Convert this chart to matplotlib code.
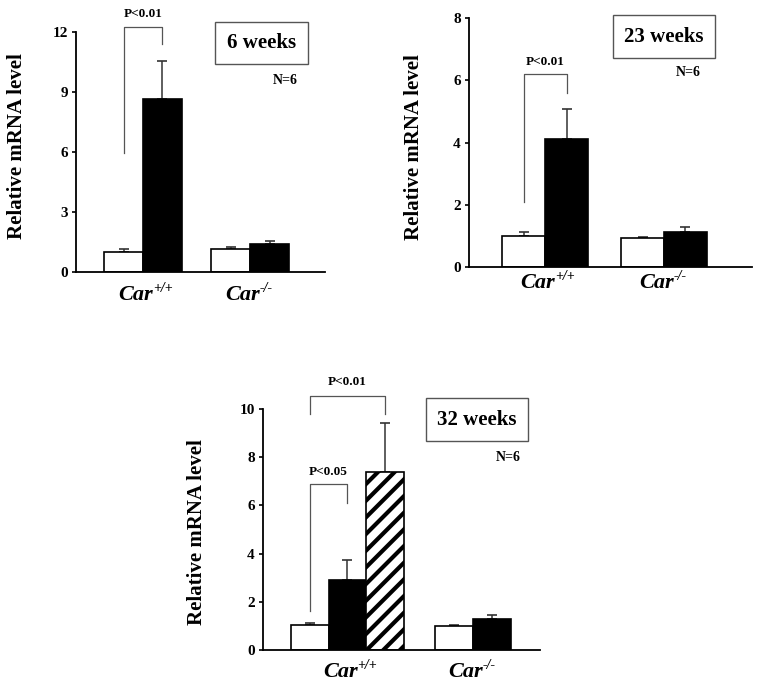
import numpy as np
import matplotlib
matplotlib.use("Agg")
import matplotlib.pyplot as plt
import matplotlib.transforms as mtransforms

plt.rcParams['font.family'] = ['Liberation Serif', 'DejaVu Serif']
plt.rcParams['font.weight'] = 'bold'
plt.rcParams['hatch.linewidth'] = 3.0

# ---------- data ----------
groups = ['Car', 'Car']
group_sup = ['+/+', '-/-']

# 6 weeks
w6_white = [1.0, 1.15]
w6_white_err = [0.15, 0.12]
w6_black = [8.65, 1.40]
w6_black_err = [1.90, 0.15]
w6_ticks = [0, 3, 6, 9, 12]

# 23 weeks
w23_white = [1.0, 0.93]
w23_white_err = [0.13, 0.04]
w23_black = [4.12, 1.12]
w23_black_err = [0.95, 0.18]
w23_ticks = [0, 2, 4, 6, 8]

# 32 weeks (third bar only for Car+/+)
w32_white = [1.04, 0.98]
w32_white_err = [0.06, 0.06]
w32_black = [2.90, 1.28]
w32_black_err = [0.85, 0.17]
w32_hatch = [7.40]
w32_hatch_err = [2.00]
w32_ticks = [0, 2, 4, 6, 8, 10]

# brackets: (left bottom, top, right bottom, label)
w6_bracket = (5.95, 12.25, 11.4, 'P<0.01')
w23_bracket = (2.1, 6.2, 5.6, 'P<0.01')
w32_bracket_05 = (1.6, 6.9, 6.1, 'P<0.05')
w32_bracket_01 = (9.8, 10.55, 9.8, 'P<0.01')

W, H = 762, 687
fig = plt.figure(figsize=(W / 100, H / 100), dpi=100)


def make_ax(left, bottom, width, height):
    return fig.add_axes([left / W, (H - bottom) / H, width / W, height / H])


def style_ax(ax, ticks, xlim, ylab_xy):
    ax.set_ylim(ticks[0], ticks[-1])
    ax.set_xlim(*xlim)
    ax.set_yticks(ticks)
    ax.set_yticklabels([str(t) for t in ticks], fontsize=11, fontweight='bold')
    ax.set_xticks([])
    ax.spines['top'].set_visible(False)
    ax.spines['right'].set_visible(False)
    ax.spines['left'].set_linewidth(1.3)
    ax.spines['bottom'].set_linewidth(1.3)
    ax.tick_params(axis='y', direction='out', length=3, width=1.2, pad=3)
    ax.set_ylabel('Relative mRNA level', fontsize=15, fontweight='bold')
    ax.yaxis.set_label_coords(*ylab_xy)
    ax.patch.set_alpha(0)


def group_labels(ax, xs, below_px):
    base = mtransforms.blended_transform_factory(ax.transData, ax.transAxes)
    for x, name, sup in zip(xs, groups, group_sup):
        t1 = mtransforms.offset_copy(base, fig=fig, x=10, y=-below_px, units='dots')
        t2 = mtransforms.offset_copy(base, fig=fig, x=10, y=-below_px + 8, units='dots')
        ax.text(x, 0, name, transform=t1, ha='right', va='baseline',
                fontsize=16, fontweight='bold', fontstyle='italic')
        ax.text(x, 0, sup, transform=t2, ha='left', va='baseline',
                fontsize=10, fontweight='bold', fontstyle='italic')


def bars(ax, x, vals, errs, w, **kw):
    ax.bar(x, vals, width=w, edgecolor='black', linewidth=1.2, zorder=2, **kw)
    ax.errorbar(x, vals, yerr=[np.zeros(len(errs)), errs], fmt='none',
                ecolor='#333333', elinewidth=1.1, capsize=3.5, capthick=1.2, zorder=1)


def bracket(ax, x0, x1, b, dy):
    lb, top, rb, lab = b
    ax.plot([x0, x0, x1, x1], [lb, top, top, rb], color='#555555', lw=0.9,
            clip_on=False, zorder=3)
    ax.text((x0 + x1) / 2, top + dy, lab, ha='center', va='center',
            fontsize=9.5, fontweight='bold')


def label_box(ax, txt, bx, by, nx, ny):
    ax.text(bx, by, txt, transform=ax.transAxes, ha='center', va='center',
            fontsize=15, fontweight='bold',
            bbox=dict(boxstyle='square,pad=0.55', fc='white', ec='#555555', lw=1.0))
    ax.text(nx, ny, 'N=6', transform=ax.transAxes, ha='center', va='center',
            fontsize=10, fontweight='bold')


cx = np.arange(len(groups))

# ---------- panel 1: 6 weeks ----------
ax1 = make_ax(76, 272, 249, 240)
w = 0.364
bars(ax1, cx - w / 2, w6_white, w6_white_err, w, color='white')
bars(ax1, cx + w / 2, w6_black, w6_black_err, w, color='black')
style_ax(ax1, w6_ticks, (-0.626, 1.70), (-0.197, 0.523))
group_labels(ax1, cx, 28)
bracket(ax1, -w / 2, w / 2, w6_bracket, 0.65)
label_box(ax1, '6 weeks', 0.745, 0.954, 0.84, 0.80)

# ---------- panel 2: 23 weeks ----------
ax2 = make_ax(469, 267, 283, 249)
w = 0.36
bars(ax2, cx - w / 2, w23_white, w23_white_err, w, color='white')
bars(ax2, cx + w / 2, w23_black, w23_black_err, w, color='black')
style_ax(ax2, w23_ticks, (-0.64, 1.74), (-0.159, 0.48))
group_labels(ax2, cx, 21)
bracket(ax2, -w / 2, w / 2, w23_bracket, 0.4)
label_box(ax2, '23 weeks', 0.689, 0.924, 0.774, 0.783)

# ---------- panel 3: 32 weeks ----------
ax3 = make_ax(263, 650, 277, 241)
w = 0.30
bars(ax3, [-w, 1 - w / 2], w32_white, w32_white_err, w, color='white')
bars(ax3, [0, 1 + w / 2], w32_black, w32_black_err, w, color='black')
bars(ax3, [w], w32_hatch, w32_hatch_err, w, color='white', hatch='//')
style_ax(ax3, w32_ticks, (-0.673, 1.534), (-0.202, 0.488))
group_labels(ax3, cx, 27)
bracket(ax3, -w, 0, w32_bracket_05, 0.5)
bracket(ax3, -w, w, w32_bracket_01, 0.55)
label_box(ax3, '32 weeks', 0.773, 0.956, 0.884, 0.80)

fig.savefig('out.png', dpi=100, facecolor='white')
